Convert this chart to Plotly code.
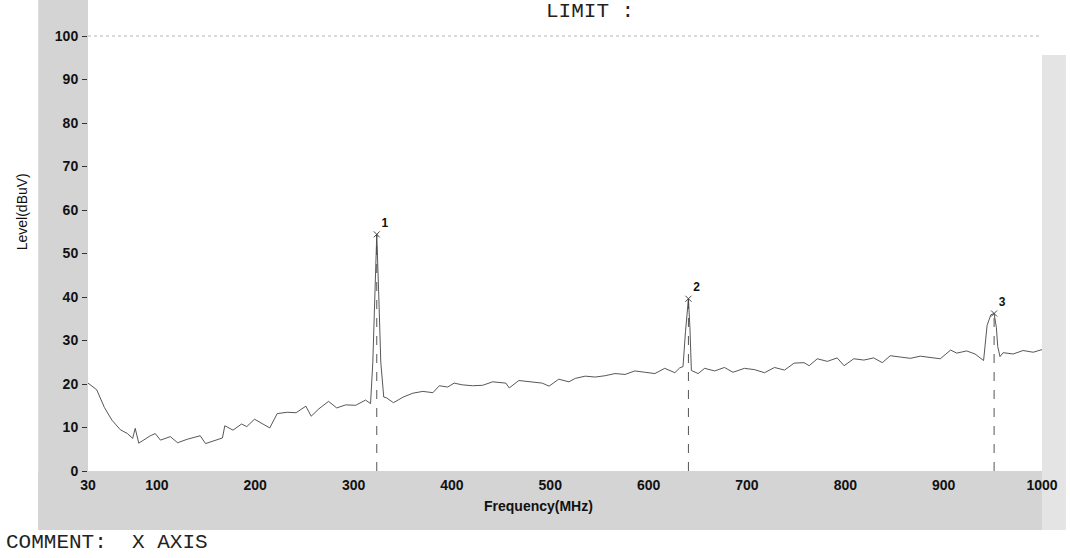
import plotly.graph_objects as go

# Spectrum scan, 30 MHz - 1 GHz
freq_mhz = [
    30.0, 38.8, 46.7, 54.3, 62.8, 70.1, 75.4, 78.0, 81.6, 93.4,
    98.4, 103.7, 113.7, 121.1, 131.0, 144.1, 149.5, 161.6, 166.7, 169.1,
    177.4, 186.2, 191.4, 199.3, 207.6, 214.8, 222.4, 232.5, 241.6, 251.5,
    256.9, 264.8, 274.6, 282.9, 292.0, 302.2, 312.2, 317.3, 319.6, 321.6,
    323.6, 325.7, 327.7, 330.7, 333.6, 340.6, 350.5, 360.5, 370.5, 380.7,
    387.2, 395.7, 402.3, 410.7, 421.0, 431.2, 441.5, 454.9, 458.3, 468.1,
    478.4, 491.9, 498.8, 508.6, 519.0, 525.6, 535.6, 545.7, 555.8, 565.8,
    576.1, 586.0, 596.2, 606.4, 616.4, 626.7, 631.6, 635.0, 637.5, 640.5,
    642.0, 643.5, 650.4, 657.0, 667.2, 677.1, 685.8, 697.5, 707.7, 717.9,
    728.0, 738.2, 748.0, 758.1, 763.3, 771.5, 781.8, 791.7, 798.8, 808.6,
    818.9, 828.9, 837.6, 845.7, 855.9, 866.2, 876.2, 886.4, 896.6, 907.1,
    913.3, 923.4, 931.9, 940.6, 944.2, 948.0, 951.3, 953.6, 955.0, 957.3,
    960.5, 970.7, 980.8, 991.0, 1000.0,
]
level_dbuv = [
    20.2, 18.7, 14.6, 11.7, 9.5, 8.6, 7.5, 9.8, 6.4, 8.1,
    8.6, 7.1, 7.9, 6.5, 7.3, 8.1, 6.3, 7.1, 7.6, 10.4,
    9.4, 10.8, 10.2, 11.9, 10.8, 9.9, 13.2, 13.5, 13.4, 14.9,
    12.6, 14.3, 16.0, 14.5, 15.2, 15.1, 16.3, 15.5, 25.0, 40.0,
    54.4, 40.0, 25.0, 17.0, 16.8, 15.7, 17.0, 17.9, 18.3, 18.0,
    19.6, 19.3, 20.2, 19.8, 19.6, 19.7, 20.5, 20.2, 19.1, 20.8,
    20.5, 20.2, 19.5, 21.1, 20.5, 21.3, 21.8, 21.6, 21.9, 22.4,
    22.2, 23.0, 22.7, 22.4, 23.6, 22.6, 23.7, 24.0, 32.0, 39.6,
    33.0, 23.1, 22.4, 23.6, 23.0, 23.8, 22.7, 23.6, 23.3, 22.6,
    23.8, 23.2, 24.8, 24.9, 24.2, 25.8, 25.2, 26.0, 24.2, 25.8,
    25.5, 26.0, 24.9, 26.5, 26.2, 25.9, 26.4, 26.1, 25.8, 27.8,
    27.1, 27.6, 26.9, 25.4, 33.5, 35.9, 36.2, 33.0, 28.6, 26.3,
    27.2, 26.9, 27.7, 27.3, 27.9,
]

# Marked emissions
peak_ids = ["1", "2", "3"]
peak_freq = [323.6, 640.5, 951.3]
peak_level = [54.4, 39.6, 36.2]

x_ticks = [30, 100, 200, 300, 400, 500, 600, 700, 800, 900, 1000]
y_ticks = [0, 10, 20, 30, 40, 50, 60, 70, 80, 90, 100]

W, H = 1070, 558
M_L, M_R, M_T, M_B = 88, 24, 36, 87
pw = W - M_L - M_R
ph = H - M_T - M_B


def px_x(p):
    return (p - M_L) / pw


def px_y(p):
    return (H - M_B - p) / ph


fig = go.Figure()

# dashed marker drop lines
drop_x, drop_y = [], []
for f, lv in zip(peak_freq, peak_level):
    drop_x += [f, f, None]
    drop_y += [0, lv, None]
fig.add_trace(go.Scatter(
    x=drop_x, y=drop_y, mode="lines",
    line=dict(color="#555555", width=1, dash="dash"),
    hoverinfo="skip", showlegend=False,
))

# measured level
fig.add_trace(go.Scatter(
    x=freq_mhz, y=level_dbuv, mode="lines",
    line=dict(color="#444444", width=0.9),
    showlegend=False,
))

# peak markers
fig.add_trace(go.Scatter(
    x=peak_freq, y=peak_level, mode="markers+text",
    marker=dict(symbol="x-thin", size=6, line=dict(color="#444444", width=1)),
    text=peak_ids, textposition="top right",
    textfont=dict(family="Liberation Sans, Arial", size=12, color="#111111", weight="bold"),
    showlegend=False,
))

GRAY = "#d4d4d4"
GRAY_LIGHT = "#e4e4e4"
shapes = [
    # halftone frame around the plot area
    dict(type="rect", xref="paper", yref="paper", layer="below",
         x0=px_x(38), x1=0, y0=px_y(530), y1=px_y(0),
         fillcolor=GRAY, line=dict(width=0)),
    dict(type="rect", xref="paper", yref="paper", layer="below",
         x0=px_x(38), x1=1, y0=px_y(530), y1=0,
         fillcolor=GRAY, line=dict(width=0)),
    dict(type="rect", xref="paper", yref="paper", layer="below",
         x0=1, x1=px_x(W), y0=px_y(530), y1=px_y(55),
         fillcolor=GRAY_LIGHT, line=dict(width=0)),
    # faint top border
    dict(type="line", xref="paper", yref="paper",
         x0=0, x1=1, y0=1, y1=1,
         line=dict(color="#b5b5b5", width=1, dash="dot")),
]

annotations = [
    dict(text="Level(dBuV)", xref="paper", yref="paper",
         x=px_x(22), y=px_y(212), textangle=-90, showarrow=False,
         xanchor="center", yanchor="middle",
         font=dict(family="Liberation Sans, Arial", size=14, color="#111111")),
    dict(text="Frequency(MHz)", xref="paper", yref="paper",
         x=px_x(540), y=px_y(506), showarrow=False,
         xanchor="center", yanchor="middle",
         font=dict(family="Liberation Sans, Arial", size=14, color="#111111", weight="bold")),
    dict(text="LIMIT :", xref="paper", yref="paper",
         x=px_x(546), y=px_y(12), showarrow=False,
         xanchor="left", yanchor="middle",
         font=dict(family="Liberation Mono, Courier New, monospace", size=21, color="#222222")),
    dict(text="COMMENT:  X AXIS", xref="paper", yref="paper",
         x=px_x(4), y=px_y(542), showarrow=False,
         xanchor="left", yanchor="middle",
         font=dict(family="Liberation Mono, Courier New, monospace", size=21, color="#222222")),
]

tick_font = dict(family="Liberation Sans, Arial", size=14, color="#111111", weight="bold")

fig.update_layout(
    width=W, height=H,
    margin=dict(l=M_L, r=M_R, t=M_T, b=M_B),
    paper_bgcolor="white", plot_bgcolor="white",
    shapes=shapes, annotations=annotations,
    xaxis=dict(
        range=[30, 1000], tickmode="array", tickvals=x_ticks,
        ticktext=[str(v) for v in x_ticks],
        showgrid=False, zeroline=False, showline=False,
        ticks="", ticklabelstandoff=4, tickfont=tick_font,
    ),
    yaxis=dict(
        range=[0, 100], tickmode="array", tickvals=y_ticks,
        showgrid=False, zeroline=False, showline=False,
        ticks="outside", ticklen=5, tickwidth=1, tickcolor="#333333",
        ticklabelstandoff=1, tickfont=tick_font,
    ),
)

fig.write_html("out.html")
